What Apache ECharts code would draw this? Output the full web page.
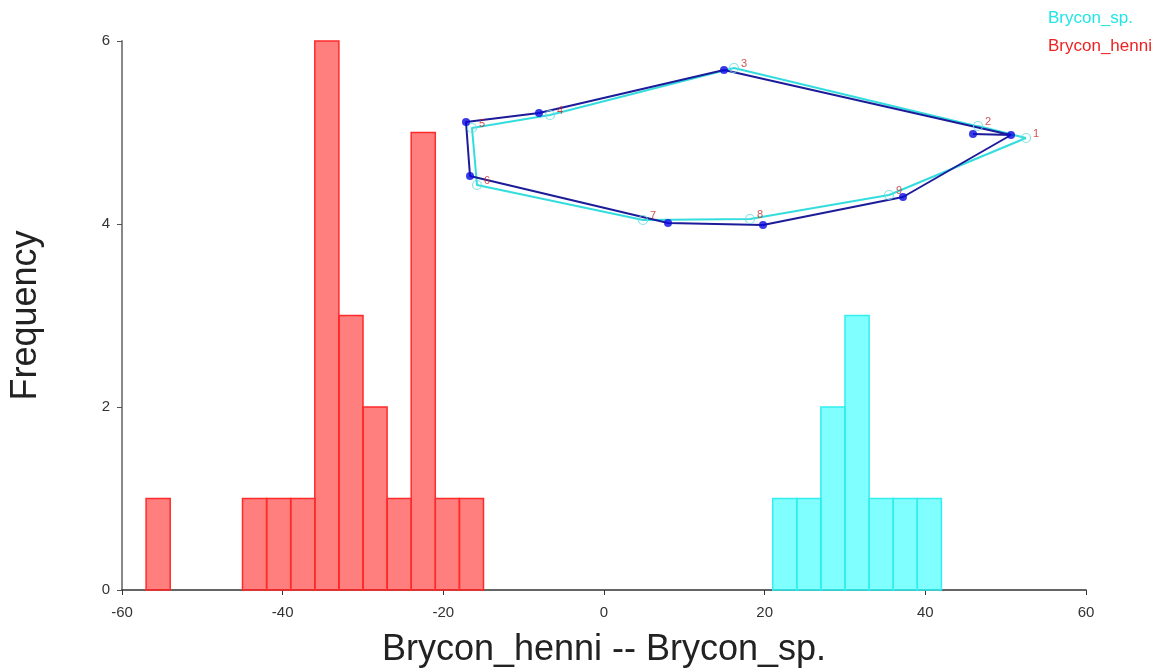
<!DOCTYPE html>
<html><head><meta charset="utf-8">
<script src="https://cdn.jsdelivr.net/npm/echarts@6/dist/echarts.min.js"></script>
<style>html,body{margin:0;padding:0;background:#fff}#c{width:1166px;height:670px}</style>
</head><body><div id="c"></div>
<script>
// Histogram bins (width 3)
const binWidth = 3;
const henniBinStarts = [-57, -45, -42, -39, -36, -33, -30, -27, -24, -21, -18];
const henniCounts    = [1, 1, 1, 1, 6, 3, 2, 1, 5, 1, 1];
const spBinStarts = [21, 24, 27, 30, 33, 36, 39];
const spCounts    = [1, 1, 2, 3, 1, 1, 1];
const xTicks = [-60, -40, -20, 0, 20, 40, 60];
const yTicks = [0, 2, 4, 6];

// Inset landmark shapes (inset units)
const landmarkIds = [1, 2, 3, 4, 5, 6, 7, 8, 9];
const darkX = [571, 533, 284, 99, 26, 30, 228, 323, 463];
const darkY = [85, 84, 20, 63, 72, 126, 173, 175, 147];
const cyanX = [586, 538, 294, 110, 32, 37, 203, 310, 449];
const cyanY = [88, 76, 18, 65, 78, 135, 170, 169, 145];
const outlineOrder = [2, 1, 3, 4, 5, 6, 7, 8, 9, 1];

const pts = (xs, ys) => xs.map((x, i) => [x, ys[i]]);
const outline = (xs, ys) => outlineOrder.map(id => [xs[id - 1], ys[id - 1]]);

function histSeries(name, starts, counts, fill, stroke) {
  return {
    name, type: 'custom', xAxisIndex: 0, yAxisIndex: 0,
    data: starts.map((s, i) => [s, s + binWidth, counts[i]]),
    encode: { x: [0, 1], y: 2 },
    renderItem: (params, api) => {
      const p0 = api.coord([api.value(0), 0]);
      const p1 = api.coord([api.value(1), api.value(2)]);
      return {
        type: 'rect',
        shape: { x: p0[0], y: p1[1], width: p1[0] - p0[0], height: p0[1] - p1[1] },
        style: { fill, stroke, lineWidth: 1.5 }
      };
    }
  };
}

const chart = echarts.init(document.getElementById('c'), null, { renderer: 'canvas' });
const font = 'Liberation Sans, Arial, sans-serif';
chart.setOption({
  animation: false,
  textStyle: { fontFamily: font },
  legend: {
    orient: 'vertical', left: 1043, top: 10, itemGap: 11,
    itemWidth: 0, itemHeight: 0, padding: 0,
    data: [
      { name: 'Brycon_sp.', icon: 'none', textStyle: { color: '#22e5e5' } },
      { name: 'Brycon_henni', icon: 'none', textStyle: { color: '#ee2222' } }
    ],
    textStyle: { fontSize: 17, fontFamily: font }
  },
  grid: [
    { left: 122, right: 80, top: 41, bottom: 80, containLabel: false, outerBoundsMode: 'none' },
    { left: 440, top: 50, width: 620, height: 200, outerBoundsMode: 'none' }
  ],
  xAxis: [
    {
      type: 'value', gridIndex: 0, min: -60, max: 60, interval: 20,
      name: 'Brycon_henni -- Brycon_sp.', nameLocation: 'middle', nameGap: 42,
      nameTextStyle: { fontSize: 36, color: '#222', fontFamily: font },
      axisLine: { show: true, onZero: false, lineStyle: { color: '#333', width: 1.5 } },
      axisTick: { show: true, length: 5, lineStyle: { color: '#333' } },
      axisLabel: { fontSize: 15, color: '#333', margin: 15 },
      splitLine: { show: false }
    },
    { type: 'value', gridIndex: 1, min: 0, max: 620, show: false }
  ],
  yAxis: [
    {
      type: 'value', gridIndex: 0, min: 0, max: 6, interval: 2,
      name: 'Frequency', nameLocation: 'middle', nameGap: 78,
      nameTextStyle: { fontSize: 36, color: '#222', fontFamily: font },
      axisLine: { show: true, onZero: false, lineStyle: { color: '#888', width: 2 } },
      axisTick: { show: true, length: 5, lineStyle: { color: '#555' } },
      axisLabel: { fontSize: 15, color: '#333', margin: 12 },
      splitLine: { show: false }
    },
    { type: 'value', gridIndex: 1, min: 0, max: 200, inverse: true, show: false }
  ],
  series: [
    histSeries('Brycon_henni', henniBinStarts, henniCounts, 'rgba(255,0,0,0.5)', '#ff2a2a'),
    histSeries('Brycon_sp.', spBinStarts, spCounts, 'rgba(0,255,255,0.5)', '#33eeee'),
    {
      type: 'line', xAxisIndex: 1, yAxisIndex: 1, data: outline(cyanX, cyanY),
      showSymbol: false, lineStyle: { color: '#33dddd', width: 2 }, silent: true, z: 3
    },
    {
      type: 'line', xAxisIndex: 1, yAxisIndex: 1, data: outline(darkX, darkY),
      showSymbol: false, lineStyle: { color: '#1c1c9a', width: 2 }, silent: true, z: 4
    },
    {
      type: 'scatter', xAxisIndex: 1, yAxisIndex: 1, data: pts(cyanX, cyanY),
      symbol: 'circle', symbolSize: 9,
      itemStyle: { color: 'rgba(255,255,255,0)', borderColor: '#66dddd', borderWidth: 1.2 },
      label: {
        show: true, position: 'right', distance: 2, fontSize: 11, color: '#c02828',
        offset: [0, -4],
        formatter: p => String(landmarkIds[p.dataIndex])
      }, z: 5
    },
    {
      type: 'scatter', xAxisIndex: 1, yAxisIndex: 1, data: pts(darkX, darkY),
      symbol: 'circle', symbolSize: 8, itemStyle: { color: '#0a0ae0' }, z: 6
    }
  ]
});
</script></body></html>
